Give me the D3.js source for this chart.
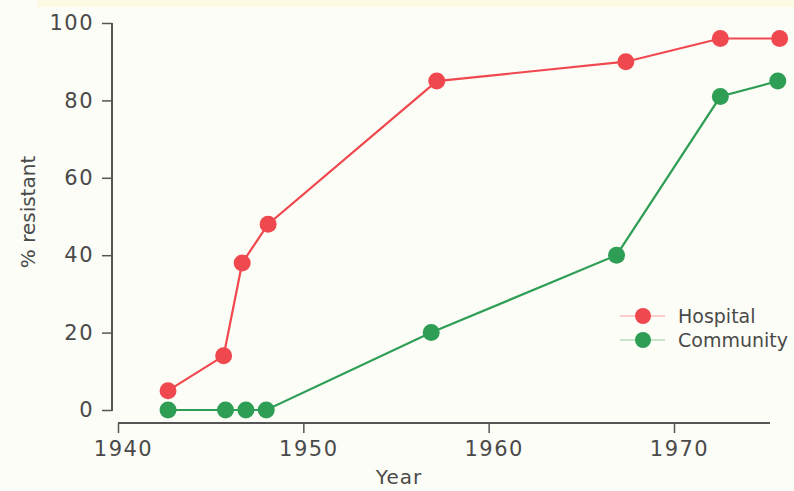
<!DOCTYPE html>
<html>
<head>
<meta charset="utf-8">
<script src="https://cdn.jsdelivr.net/npm/d3@7"></script>
<style>
  body { margin: 0; background: #fdfdf7; }
  svg { display: block; }
</style>
</head>
<body>
<div id="chart"></div>
<script>
(function () {
    'use strict';
    var width = 794;
    var height = 491;

    // data
    var hospitalYears = [1942.7, 1945.7, 1946.7, 1948.1, 1957.2, 1967.4, 1972.5, 1975.7];
    var hospitalValues = [5, 14, 38, 48, 85, 90, 96, 96];
    var communityYears = [1942.7, 1945.8, 1946.9, 1948.0, 1956.9, 1966.9, 1972.5, 1975.6];
    var communityValues = [0, 0, 0, 0, 20, 40, 81, 85];
    var xTicks = [1940, 1950, 1960, 1970];
    var yTicks = [0, 20, 40, 60, 80, 100];
    var seriesNames = ['Hospital', 'Community'];
    var seriesColors = ['#f0484f', '#2f9e55'];

    var svg = d3.select('#chart')
        .append('svg')
        .attr('width', width)
        .attr('height', height);

    svg.append('rect').attr('width', width).attr('height', height).attr('fill', '#fdfdf7');
    svg.append('rect').attr('x', 37).attr('y', 0).attr('width', width - 37).attr('height', 7).attr('fill', '#fdfae3');

    var x = d3.scaleLinear().domain([1940, 1970]).range([118, 674]);
    var y = d3.scaleLinear().domain([0, 100]).range([410, 23]);

    var textColor = '#4a4a4a';
    var axisColor = '#555';
    var font = 'DejaVu Sans, sans-serif';

    // y axis
    var yAxis = svg.append('g')
        .attr('transform', 'translate(112,0)')
        .call(d3.axisLeft(y).tickValues(yTicks).tickSize(10).tickPadding(8));
    yAxis.select('.domain').attr('stroke', axisColor).attr('stroke-width', 2)
        .attr('d', 'M0,' + y(100) + 'V' + (y(0) + 1));
    yAxis.selectAll('.tick line').attr('stroke', axisColor).attr('stroke-width', 1.5);
    yAxis.selectAll('.tick text')
        .attr('fill', textColor)
        .style('font-family', font)
        .style('font-size', '21px')
        .style('letter-spacing', '1.5px');

    // x axis
    var xAxis = svg.append('g')
        .attr('transform', 'translate(0,423)')
        .call(d3.axisBottom(x).tickValues(xTicks).tickFormat(d3.format('d')).tickSize(10).tickPadding(8));
    xAxis.select('.domain').attr('stroke', axisColor).attr('stroke-width', 2)
        .attr('d', 'M' + x(1940) + ',0H770');
    xAxis.selectAll('.tick line').attr('stroke', axisColor).attr('stroke-width', 1.5);
    xAxis.selectAll('.tick text')
        .attr('fill', textColor)
        .attr('dx', 5)
        .style('font-family', font)
        .style('font-size', '21px')
        .style('letter-spacing', '1.5px');

    svg.append('text')
        .attr('x', 399).attr('y', 484)
        .attr('text-anchor', 'middle')
        .attr('fill', textColor)
        .style('font-family', font)
        .style('font-size', '20px')
        .style('letter-spacing', '1px')
        .text('Year');

    svg.append('text')
        .attr('transform', 'translate(35,212) rotate(-90)')
        .attr('text-anchor', 'middle')
        .attr('fill', textColor)
        .style('font-family', font)
        .style('font-size', '20px')
        .text('% resistant');

    var series = [
        { name: seriesNames[0], color: seriesColors[0], data: d3.zip(hospitalYears, hospitalValues) },
        { name: seriesNames[1], color: seriesColors[1], data: d3.zip(communityYears, communityValues) }
    ];

    var line = d3.line()
        .x(function (d) { return x(d[0]); })
        .y(function (d) { return y(d[1]); });

    // draw community first so hospital sits on top
    series.slice().reverse().forEach(function (s) {
        svg.append('path')
            .datum(s.data)
            .attr('d', line)
            .attr('fill', 'none')
            .attr('stroke', s.color)
            .attr('stroke-width', 2.2);
        svg.selectAll(null)
            .data(s.data)
            .enter()
            .append('circle')
            .attr('cx', function (d) { return x(d[0]); })
            .attr('cy', function (d) { return y(d[1]); })
            .attr('r', 8.5)
            .attr('fill', s.color);
    });

    // legend
    var legend = svg.append('g').attr('transform', 'translate(643,316)');
    series.forEach(function (s, i) {
        var g = legend.append('g').attr('transform', 'translate(0,' + (i * 24) + ')');
        g.append('line')
            .attr('x1', -23).attr('x2', 22)
            .attr('stroke', s.color).attr('stroke-opacity', 0.35).attr('stroke-width', 1.5);
        g.append('circle').attr('r', 8).attr('fill', s.color);
        g.append('text')
            .attr('x', 35).attr('dy', '0.35em')
            .attr('fill', textColor)
            .style('font-family', font)
            .style('font-size', '19px')
            .text(s.name);
    });
}());
</script>
</body>
</html>
